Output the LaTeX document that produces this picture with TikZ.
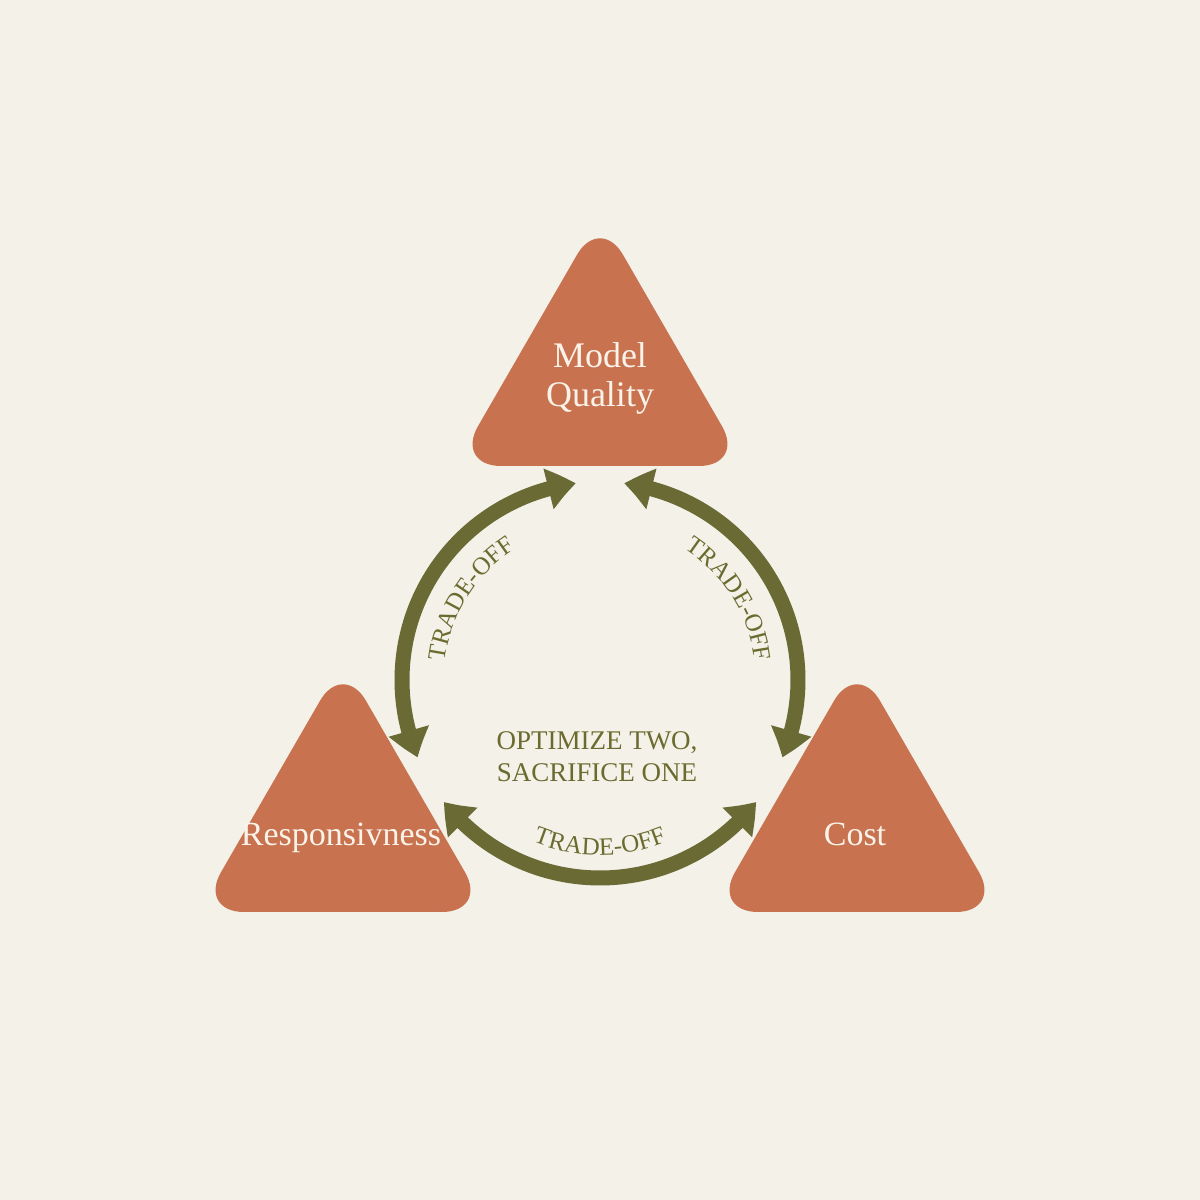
\documentclass[tikz,border=0pt]{standalone}
\usepackage{fontspec}
\setmainfont{Liberation Serif}
\usetikzlibrary{arrows.meta,bending,decorations.text}
\definecolor{bgc}{HTML}{F3F1E8}
\definecolor{tric}{HTML}{C8724F}
\definecolor{olivec}{HTML}{6A6B34}
\definecolor{olivetext}{HTML}{6B6B30}
\definecolor{tritext}{HTML}{FAF3EA}
\newcommand\lblfont{\fontsize{25}{30}\selectfont}
\begin{document}
\begin{tikzpicture}[x=1pt,y=1pt,
  tri/.style={fill=tric,rounded corners=46pt},
  tritxt/.style={text=tritext,font=\fontsize{34}{40}\selectfont,anchor=base,inner sep=0pt},
  midtxt/.style={text=olivetext,font=\fontsize{27}{32}\selectfont,anchor=base,inner sep=0pt},
  arr/.style={draw=olivec,line width=15pt,
    {Triangle[width=40pt,length=28pt,bend]}-{Triangle[width=40pt,length=28pt,bend]}},
  lbl/.style={decorate,decoration={text along path,text align=center,
    text={|\color{olivetext}\lblfont|TRADE-OFF}}}]
\fill[bgc] (0,0) rectangle (1200,1200);
\useasboundingbox (0,0) rectangle (1200,1200);
% triangles
\fill[tri] (455,734) -- (600,985) -- (745,734) -- cycle;
\fill[tri] (198,288) -- (343,539) -- (488,288) -- cycle;
\fill[tri] (712,288) -- (857,539) -- (1002,288) -- cycle;
\node[tritxt,font=\fontsize{36}{40}\selectfont] (mq1) at (600,832) {Model};
\node[tritxt,font=\fontsize{36}{40}\selectfont] (mq2) at (600,793) {Quality};
\node[tritxt] (resp) at (341,354) {Responsivness};
\node[tritxt] (cost) at (855,354) {Cost};
% center
\coordinate (C) at (600,520);
\node[midtxt] (opt1) at (597,450) {OPTIMIZE TWO,};
\node[midtxt] (opt2) at (597,418) {SACRIFICE ONE};
% arcs
\coordinate (l1) at ([shift={(97:198)}]C);
\coordinate (b1) at ([shift={(218:198)}]C);
\coordinate (r1) at ([shift={(337:198)}]C);
\draw[arr] (l1) arc[start angle=97,end angle=203,radius=198];
\draw[arr] (b1) arc[start angle=218,end angle=322,radius=198];
\draw[arr] (r1) arc[start angle=337,end angle=443,radius=198];
% labels
\path[lbl] ([shift={(190:156)}]C) arc[start angle=190,end angle=106,radius=156];
\path[lbl] ([shift={(74:156)}]C) arc[start angle=74,end angle=-10,radius=156];
\path[lbl] ([shift={(230:175)}]C) arc[start angle=230,end angle=310,radius=175];
\end{tikzpicture}
\end{document}
